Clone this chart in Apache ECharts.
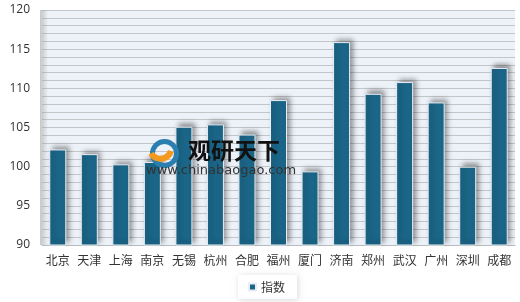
<!DOCTYPE html>
<html><head><meta charset="utf-8">
<script src="https://cdn.jsdelivr.net/npm/echarts@6/dist/echarts.min.js"></script>
<style>html,body{margin:0;padding:0;background:#fff}#c{width:520px;height:302px}</style>
</head><body><div id="c"></div>
<script>
const categories = ['北京','天津','上海','南京','无锡','杭州','合肥','福州','厦门','济南','郑州','武汉','广州','深圳','成都'];
const indexValues = [102.2,101.6,100.3,100.6,105.1,105.4,104.1,108.5,99.4,115.9,109.3,110.8,108.2,100.0,112.6];
const seriesName = '指数';
const yMin = 90, yMax = 120, yStep = 5;

const chart = echarts.init(document.getElementById('c'), null, {renderer:'canvas'});
const font = '"Noto Sans CJK SC", "Open Sans", sans-serif';
chart.setOption({
  animation:false,
  textStyle:{fontFamily:font},
  grid:{left:42,right:5,top:10,bottom:57,show:true,backgroundColor:'#edf2f8',borderWidth:0},
  xAxis:{type:'category',data:categories,
    axisLine:{show:true,lineStyle:{color:'#b8bcc0',width:1}},
    axisTick:{show:false},
    axisLabel:{color:'#333',fontSize:12,margin:9,interval:0,fontFamily:font}},
  yAxis:{type:'value',min:yMin,max:yMax,interval:yStep,
    axisLine:{show:false},axisTick:{show:false},
    axisLabel:{color:'#333',fontSize:12,margin:12,fontFamily:'"Open Sans", sans-serif'},
    splitLine:{show:true,lineStyle:{color:'#c3c6c9',width:1}},
    minorTick:{show:false,splitNumber:5},
    minorSplitLine:{show:true,lineStyle:{color:'#c3c6c9',width:1}}},
  legend:{bottom:3,left:238,data:[seriesName],itemWidth:7,itemHeight:7,icon:'rect',
    padding:[6,12,6,10],backgroundColor:'#fff',shadowColor:'rgba(0,0,0,0.15)',shadowBlur:6,shadowOffsetX:1,shadowOffsetY:1,
    textStyle:{color:'#333',fontSize:12,fontFamily:font}},
  graphic:[
    {type:'rect',left:40,top:10,shape:{width:8,height:235},z:1,
     style:{fill:new echarts.graphic.LinearGradient(0,0,1,0,[{offset:0,color:'rgba(150,150,150,0.55)'},{offset:1,color:'rgba(150,150,150,0)'}])}},
    {type:'circle',left:150,top:139,z:100,shape:{r:12},style:{fill:'none',stroke:'#2a7fb0',lineWidth:5}},
    {type:'arc',left:148,top:148,z:101,shape:{r:11,startAngle:0.3,endAngle:2.6},style:{fill:'none',stroke:'#f39a1e',lineWidth:6}},
    {type:'text',left:188,top:139,z:100,style:{text:'观研天下',fill:'#111',font:'bold 23px "Noto Sans CJK SC"'}},
    {type:'text',left:146,top:164,z:100,style:{text:'www.chinabaogao.com',fill:'#333',font:'13px "DejaVu Sans", sans-serif'}}
  ],
  series:[{name:seriesName,type:'bar',data:indexValues,barWidth:17,z:5,
    itemStyle:{color:'#1b6688',borderColor:'#e8eef4',borderWidth:1,
      shadowColor:'rgba(0,0,0,0.4)',shadowBlur:5,shadowOffsetX:3,shadowOffsetY:-3}}]
});
</script></body></html>
